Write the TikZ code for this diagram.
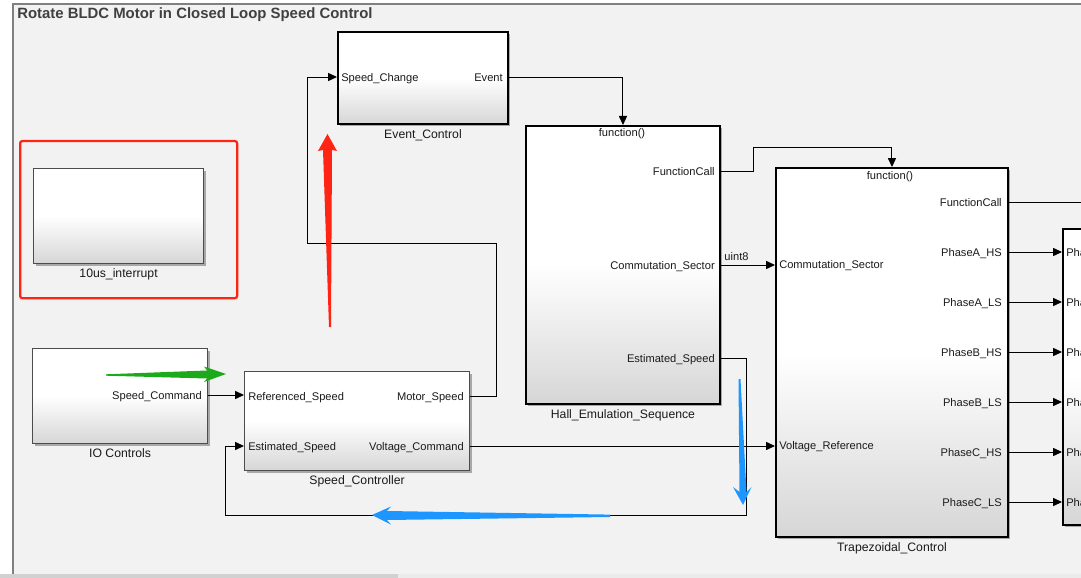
\documentclass[tikz,border=0pt]{standalone}
\usepackage{fontspec}
\setmainfont{Liberation Sans}
\usepackage{xcolor}
\usepackage{tikz}
\usetikzlibrary{arrows.meta, positioning, shadows}
\definecolor{canvas}{RGB}{242,242,242}
\definecolor{framegray}{RGB}{128,128,128}
\definecolor{txt}{RGB}{26,26,26}
\definecolor{titletxt}{RGB}{64,64,64}
\definecolor{blockbot}{RGB}{214,214,214}
\definecolor{markred}{RGB}{255,36,20}
\definecolor{markgreen}{RGB}{28,170,28}
\definecolor{markblue}{RGB}{30,150,255}
\newdimen\px
\px=0.025cm

\begin{document}
\begin{tikzpicture}[x=0.025cm, y=-0.025cm,
    blk/.style={draw=black, line width=1.4pt, anchor=north west, inner sep=0pt,
        top color=white, bottom color=blockbot, middle color=white,
        drop shadow={shadow xshift=1.6pt, shadow yshift=-1.6pt, opacity=.3, fill=black}},
    blkthin/.style={blk, draw=black!70, line width=0.8pt},
    port/.style={font=\fontsize{7.9}{9}\selectfont, text=txt, inner sep=0pt,
        text height=6.7pt, text depth=1pt},
    pin/.style={port, anchor=west},
    pout/.style={port, anchor=east},
    lbl/.style={font=\fontsize{8.7}{10}\selectfont, text=txt, inner sep=0pt},
    sig/.style={draw=black, line width=0.7pt, -{Triangle[length=6.4pt, width=5.8pt]}},
    wire/.style={draw=black, line width=0.7pt},
    ]
\clip (0,0) rectangle (1081,578);
\useasboundingbox (0,0) rectangle (1081,578);

% canvas and frame
\fill[white] (0,0) rectangle (1081,578);
\fill[canvas] (13,4) rectangle (1081,574);
\draw[framegray, line width=0.8pt] (13,574) -- (13,4) -- (1081,4);
\fill[black!18] (0,574) rectangle (398,578);
\fill[black!8] (398,574) rectangle (1081,578);
\node[anchor=west, inner sep=0pt, text=titletxt, font=\fontsize{10.6}{12}\selectfont\bfseries] (title) at (17,15)
    {Rotate BLDC Motor in Closed Loop Speed Control};

% blocks
\node[draw=markred, line width=1.6pt, rounded corners=1.5pt, anchor=north west,
    minimum width=217\px, minimum height=157\px] (hl) at (19,140) {};
\node[blkthin, minimum width=170\px, minimum height=95\px] (intr) at (33,168) {};
\node[lbl, below=4\px of intr] {10us\_interrupt};

\node[blk, minimum width=170\px, minimum height=92\px] (evt) at (337,31) {};
\node[lbl, below=4\px of evt] {Event\_Control};
\node[pin] (spdchg) at (341,77) {Speed\_Change};
\node[pout] (evtout) at (503,77) {Event};

\node[blk, minimum width=194\px, minimum height=278\px] (hall) at (525,125) {};
\node[lbl, below=4\px of hall] {Hall\_Emulation\_Sequence};
\node[port] (hfn) at (622,132) {function()};
\node[pout] (hfc) at (715,171) {FunctionCall};
\node[pout] (hcs) at (715,265) {Commutation\_Sector};
\node[pout] (hes) at (715,358) {Estimated\_Speed};

\node[blk, minimum width=232\px, minimum height=369\px] (trap) at (775,167) {};
\node[lbl, below=4\px of trap] {Trapezoidal\_Control};
\node[port] (tfn) at (890,175) {function()};
\node[pout] (tfc) at (1002,202) {FunctionCall};
\node[pin] (tcs) at (779,264) {Commutation\_Sector};
\node[pin] (tvr) at (779,445) {Voltage\_Reference};

\node[blk, minimum width=120\px, minimum height=296\px] (drv) at (1062,228) {};

\node[blkthin, minimum width=175\px, minimum height=95\px] (ioc) at (32,348) {};
\node[lbl, below=4\px of ioc] {IO Controls};
\node[pout] (scmd) at (202,395) {Speed\_Command};

\node[blkthin, minimum width=225\px, minimum height=99\px] (spc) at (244,371) {};
\node[lbl, below=4\px of spc] {Speed\_Controller};
\node[pin] (refspd) at (248,396) {Referenced\_Speed};
\node[pin] (ses) at (248,446) {Estimated\_Speed};
\node[pout] (mspd) at (464,396) {Motor\_Speed};
\node[pout] (vcmd) at (464,446) {Voltage\_Command};

% gate signals
\foreach \nm/\y [count=\i] in {PhaseA\_HS/252, PhaseA\_LS/302, PhaseB\_HS/352,
        PhaseB\_LS/402, PhaseC\_HS/452, PhaseC\_LS/502} {
    \node[pout] (tp\i) at (1002,\y) {\nm};
    \node[pin] (dp\i) at (1066,\y) {\nm};
    \draw[sig] (trap.east |- tp\i) -- (drv.west |- tp\i);
}

% signal lines
\coordinate (fcout) at (1090,202);
\draw[wire] (trap.east |- tfc) -- (fcout);
\draw[sig] (ioc.east |- scmd) -- (spc.west |- scmd);
\draw[sig] (spc.east |- mspd) -| (496,243) -| (307,77) -- (evt.west |- spdchg);
\draw[sig] (evt.east |- evtout) -| (hall.north);
\draw[sig] (hall.east |- hfc) -| (753,147) -| (trap.north);
\draw[sig] (hall.east |- hcs) -- node[port, anchor=south west, pos=0, xshift=3\px, yshift=3\px] (dtype) {uint8} (trap.west |- hcs);
\draw[sig] (hall.east |- hes) -| (746,515) -| (225,446) -- (spc.west |- ses);
\draw[sig] (spc.east |- vcmd) -- (trap.west |- vcmd);

% hand-drawn marks
\fill[markred] (329,327) -- (331,327) -- (332,150) -- (337,151) -- (327.5,134)
    -- (318,151) -- (323,150) -- cycle;
\fill[markgreen] (106,374.3) -- (207,370.5) -- (204,366.5) -- (226,374)
    -- (204,382) -- (207,378.5) -- (106,375.7) -- cycle;
\fill[markblue] (738.5,379) -- (740.5,379) -- (746.5,492) -- (751.5,487)
    -- (743,505) -- (733,487) -- (739.5,492) -- cycle;
\fill[markblue] (610,514.6) -- (610,517) -- (387,520) -- (391,524.5)
    -- (372,515) -- (391,506.5) -- (387,511) -- cycle;
\end{tikzpicture}
\end{document}
